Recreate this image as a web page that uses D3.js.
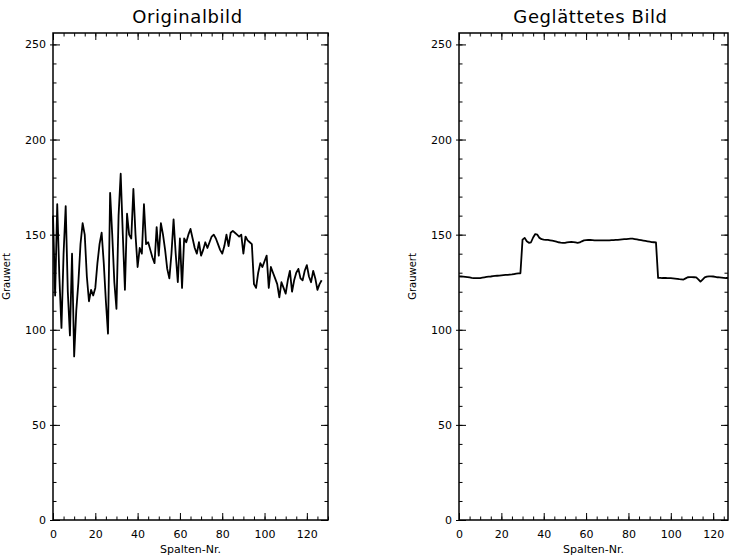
<!DOCTYPE html>
<html>
<head>
<meta charset="utf-8">
<script src="https://cdn.jsdelivr.net/npm/d3@7"></script>
<style>
  body { margin: 0; background: #fff; }
  svg { display: block; }
  .tick text { font-family: "DejaVu Sans", sans-serif; font-size: 11px; fill: #000; }
  .tick line { stroke: #000; stroke-width: 1; }
  .domain { display: none; }
</style>
</head>
<body>
<svg width="730" height="559"></svg>
<script>
// Spalten-Nr. 0..127
var columns = d3.range(128);

var originalValues = [
  160, 118, 166, 128, 101, 140, 165, 120, 97, 140,
  86, 110, 125, 145, 156, 150, 128, 115, 121, 118,
  122, 135, 145, 151, 135, 115, 98, 172, 150, 125,
  111, 160, 182, 150, 121, 161, 150, 148, 174, 150,
  133, 143, 140, 166, 145, 146, 142, 138, 135, 154,
  139, 156, 150, 142, 132, 127, 140, 158, 140, 125,
  148, 122, 148, 146, 150, 153, 148, 143, 140, 146,
  139, 142, 146, 143, 146, 149, 150, 148, 145, 142,
  140, 144, 150, 144, 151, 152, 151, 150, 149, 150,
  140, 149, 147, 146, 145, 124, 122, 130, 135, 133,
  136, 139, 122, 133, 130, 127, 124, 117, 125, 122,
  119, 126, 131, 120, 126, 130, 132, 127, 126, 131,
  134, 128, 125, 131, 127, 121, 124, 126
];

var smoothedValues = [
  128.1, 128.0, 127.9, 127.8, 127.7, 127.5, 127.3, 127.2, 127.1, 127.1,
  127.2, 127.4, 127.6, 127.8, 127.9, 128.0, 128.2, 128.3, 128.4, 128.5,
  128.6, 128.7, 128.8, 128.9, 129.0, 129.1, 129.3, 129.5, 129.6, 129.7,
  147.4, 148.3, 146.5, 145.7, 146.0, 148.5, 150.3, 150.0, 148.3, 147.6,
  147.4, 147.3, 147.2, 147.0, 146.8, 146.6, 146.3, 146.0, 145.8, 145.7,
  145.7, 145.9, 146.1, 146.2, 146.1, 145.9, 145.7, 145.9, 146.5, 147.0,
  147.1, 147.2, 147.2, 147.1, 147.0, 147.0, 147.0, 147.0, 147.0, 147.0,
  147.0, 147.0, 147.1, 147.1, 147.2, 147.3, 147.4, 147.5, 147.6, 147.7,
  147.8, 147.9, 147.9, 147.7, 147.5, 147.3, 147.1, 146.9, 146.7, 146.5,
  146.3, 146.1, 146.0, 145.9, 127.3, 127.3, 127.2, 127.2, 127.2, 127.1,
  127.1, 127.0, 126.9, 126.8, 126.6, 126.5, 126.4, 127.0, 127.6, 127.7,
  127.7, 127.6, 127.5, 126.5, 125.3, 126.4, 127.5, 127.9, 128.1, 128.1,
  128.0, 127.8, 127.6, 127.5, 127.4, 127.3, 127.2, 127.2
];

var xTickValues = [0, 20, 40, 60, 80, 100, 120];
var yTickValues = [0, 50, 100, 150, 200, 250];
var titles = ["Originalbild", "Geglättetes Bild"];
var xLabel = "Spalten-Nr.";
var yLabel = "Grauwert";

var svg = d3.select("svg");

var plotTop = 33, plotBottom = 520;

function drawPanel(values, title, left, right, xMax) {
  var x = d3.scaleLinear().domain([0, xMax]).range([left, right]);
  var y = d3.scaleLinear().domain([0, 256]).range([plotBottom, plotTop]);

  var xMinor = d3.range(0, xMax + 0.1, 5);
  var yMinor = d3.range(0, 256, 10);

  // bottom / top axes
  svg.append("g")
    .attr("transform", "translate(0," + plotBottom + ")")
    .call(d3.axisBottom(x).tickValues(xMinor).tickSize(-3.5).tickFormat(""));
  svg.append("g")
    .attr("transform", "translate(0," + plotBottom + ")")
    .call(d3.axisBottom(x).tickValues(xTickValues).tickSize(-7).tickPadding(10).tickFormat(d3.format("d")));
  svg.append("g")
    .attr("transform", "translate(0," + plotTop + ")")
    .call(d3.axisTop(x).tickValues(xMinor).tickSize(-3.5).tickFormat(""));
  svg.append("g")
    .attr("transform", "translate(0," + plotTop + ")")
    .call(d3.axisTop(x).tickValues(xTickValues).tickSize(-7).tickFormat(""));

  // left / right axes
  svg.append("g")
    .attr("transform", "translate(" + left + ",0)")
    .call(d3.axisLeft(y).tickValues(yMinor).tickSize(-3.5).tickFormat(""));
  svg.append("g")
    .attr("transform", "translate(" + left + ",0)")
    .call(d3.axisLeft(y).tickValues(yTickValues).tickSize(-7).tickPadding(7).tickFormat(d3.format("d")));
  // short outer stubs at the labelled ticks
  svg.append("g")
    .attr("transform", "translate(" + left + ",0)")
    .call(d3.axisLeft(y).tickValues(yTickValues).tickSize(3).tickFormat(""));
  svg.append("g")
    .attr("transform", "translate(" + right + ",0)")
    .call(d3.axisRight(y).tickValues(yMinor).tickSize(-3.5).tickFormat(""));
  svg.append("g")
    .attr("transform", "translate(" + right + ",0)")
    .call(d3.axisRight(y).tickValues(yTickValues).tickSize(-7).tickFormat(""));

  // frame
  svg.append("rect")
    .attr("x", left)
    .attr("y", plotTop)
    .attr("width", right - left)
    .attr("height", plotBottom - plotTop)
    .attr("fill", "none")
    .attr("stroke", "#000")
    .attr("stroke-width", 1.5);

  var line = d3.line()
    .x(function(d, i) { return x(columns[i]); })
    .y(function(d) { return y(d); });

  svg.append("path")
    .datum(values)
    .attr("fill", "none")
    .attr("stroke", "#000")
    .attr("stroke-width", 1.8)
    .attr("stroke-linejoin", "round")
    .attr("d", line);

  svg.append("text")
    .attr("x", (left + right) / 2 - 3)
    .attr("y", 23)
    .attr("text-anchor", "middle")
    .style("font-family", "DejaVu Sans, sans-serif")
    .style("font-size", "18px")
    .style("letter-spacing", "0.6px")
    .text(title);

  svg.append("text")
    .attr("x", (left + right) / 2)
    .attr("y", 553)
    .attr("text-anchor", "middle")
    .style("font-family", "DejaVu Sans, sans-serif")
    .style("font-size", "11px")
    .text(xLabel);

  svg.append("text")
    .attr("transform", "translate(" + (left - 43) + "," + ((plotTop + plotBottom) / 2) + ") rotate(-90)")
    .attr("text-anchor", "middle")
    .style("font-family", "DejaVu Sans, sans-serif")
    .style("font-size", "10px")
    .text(yLabel);
}

drawPanel(originalValues, titles[0], 53, 328, 130);
drawPanel(smoothedValues, titles[1], 459, 728, 127);
</script>
</body>
</html>
